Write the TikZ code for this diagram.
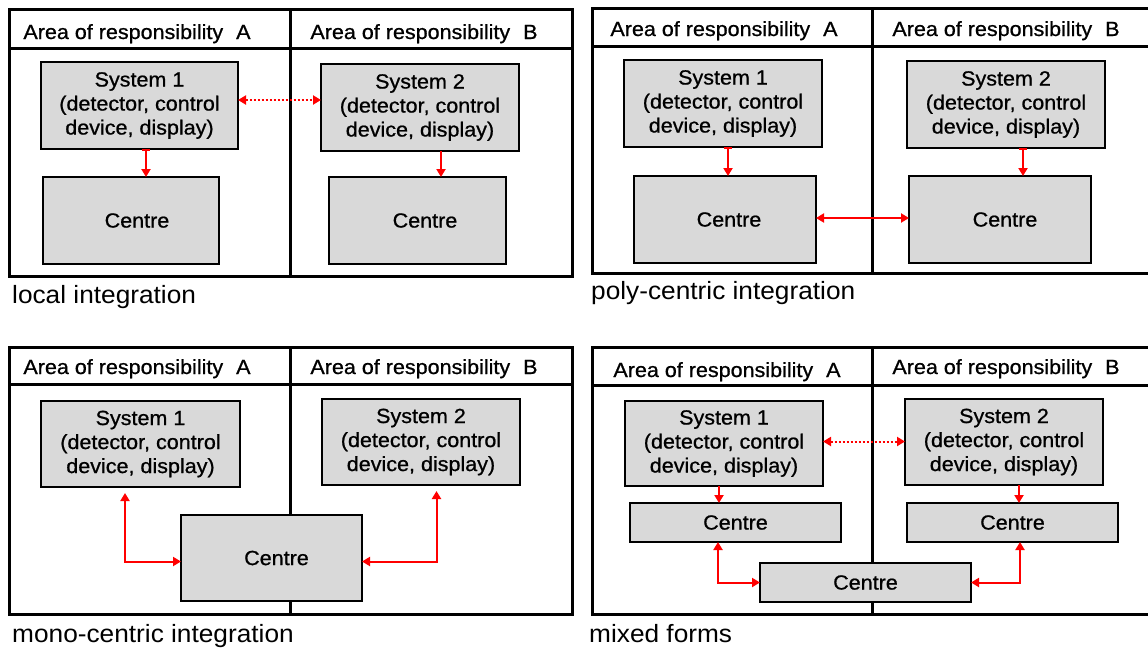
\documentclass[tikz,border=0pt]{standalone}
\usepackage{fontspec}
\setmainfont[FakeStretch=1.05]{Liberation Sans}
\newfontfamily\boxfamily[FakeStretch=1.05,FakeBold=0.8]{Liberation Sans}
\usetikzlibrary{arrows.meta,calc}
\definecolor{boxgray}{RGB}{217,217,217}
\newcommand\boxnode[6]{%
  \node[gbox, minimum width={(#4)-(#2)}, minimum height={(#5)-(#3)}]
    (#1) at ({((#2)+(#4))/2},{((#3)+(#5))/2}) {#6};}
\newcommand\sysname[1]{System #1\\(detector, control\\device, display)}
\newcommand\aor[1]{Area of responsibility\hspace{13pt}#1}
\newcommand\ctr[1]{\hspace{#1}Centre}
\begin{document}
\begin{tikzpicture}[x=1pt,y=-1pt,
  panel/.style={line width=3pt},
  gbox/.style={draw=black, fill=boxgray, line width=2pt, inner sep=0pt,
    outer sep=0pt, align=center, font=\boxfamily\fontsize{20.5}{24}\selectfont},
  hdr/.style={anchor=base, inner sep=0pt, font=\boxfamily\fontsize{20.5}{24}\selectfont},
  caption/.style={anchor=base west, inner sep=0pt, font=\fontsize{25}{30}\selectfont},
  link/.style={red, line width=2pt, -{Triangle[length=8pt,width=9pt]}},
  barlink/.style={red, line width=2pt, {Bar[width=8pt]}-{Triangle[length=8pt,width=9pt]}},
  twoway/.style={red, line width=2pt, {Triangle[length=8pt,width=9pt]}-{Triangle[length=8pt,width=9pt]}},
  dotlink/.style={twoway, dash pattern=on 2pt off 2pt}]
\clip (0,0) rectangle (1148,648);
\fill[white] (0,0) rectangle (1148,648);

% ---------- local integration ----------
\draw[panel] (9,9) rectangle (572,276);
\draw[panel] (9,48) -- (572,48);
\draw[panel] (290,9) -- (290,276);
\node[hdr] (la) at (137,39) {\aor{A}};
\node[hdr] (lb) at (424,39) {\aor{B}};
\boxnode{ls1}{41}{62}{238}{149}{\sysname{1}}
\boxnode{ls2}{321}{64}{519}{151}{\sysname{2}}
\boxnode{lc1}{43}{177}{219}{264}{\ctr{12pt}}
\boxnode{lc2}{329}{177}{506}{264}{\ctr{15pt}}
\draw[barlink] ([xshift=6.5pt]ls1.south) -- ([xshift=6.5pt]ls1.south |- lc1.north);
\draw[link] ([xshift=21pt]ls2.south) -- ([xshift=21pt]ls2.south |- lc2.north);
\draw[dotlink] ([yshift=5.5pt]ls1.east) -- ([yshift=5.5pt]ls1.east -| ls2.west);
\node[caption] (lcap) at (12,303) {local integration};

% ---------- poly-centric integration ----------
\draw[panel] (592,8) rectangle (1160,273);
\draw[panel] (592,46) -- (1160,46);
\draw[panel] (872,8) -- (872,273);
\node[hdr] (pa) at (724,36) {\aor{A}};
\node[hdr] (pb) at (1006,36) {\aor{B}};
\boxnode{ps1}{624}{60}{822}{147}{\sysname{1}}
\boxnode{ps2}{907}{61}{1105}{148}{\sysname{2}}
\boxnode{pc1}{634}{176}{816}{263}{\ctr{8pt}}
\boxnode{pc2}{909}{176}{1091}{263}{\ctr{10pt}}
\draw[barlink] ([xshift=5pt]ps1.south) -- ([xshift=5pt]ps1.south |- pc1.north);
\draw[barlink] ([xshift=17pt]ps2.south) -- ([xshift=17pt]ps2.south |- pc2.north);
\draw[twoway] ([yshift=1.5pt]pc1.east) -- ([yshift=1.5pt]pc1.east -| pc2.west);
\node[caption] (pcap) at (591,299) {poly-centric integration};

% ---------- mono-centric integration ----------
\draw[panel] (9,347) rectangle (572,614);
\draw[panel] (9,384) -- (572,384);
\draw[panel] (290,347) -- (290,614);
\node[hdr] (ma) at (137,374) {\aor{A}};
\node[hdr] (mb) at (424,374) {\aor{B}};
\boxnode{ms1}{41}{401}{240}{487}{\sysname{1}}
\boxnode{ms2}{322}{399}{520}{485}{\sysname{2}}
\boxnode{mc}{181}{515}{362}{601}{\ctr{10pt}}
\draw[twoway] ([shift={(-15.5,6)}]ms1.south) |- ([yshift=-3.5pt]mc.west);
\draw[twoway] ([yshift=-3.5pt]mc.east) -| ([shift={(15.5,6)}]ms2.south);
\node[caption] (mcap) at (12,642) {mono-centric integration};

% ---------- mixed forms ----------
\draw[panel] (592,347) rectangle (1160,614);
\draw[panel] (592,385) -- (1160,385);
\draw[panel] (872,347) -- (872,614);
\node[hdr] (xa) at (727,377) {\aor{A}};
\node[hdr] (xb) at (1006,374) {\aor{B}};
\boxnode{xs1}{625}{401}{823}{486}{\sysname{1}}
\boxnode{xs2}{905}{399}{1103}{485}{\sysname{2}}
\boxnode{xc1}{630}{503}{841}{542}{Centre}
\boxnode{xc2}{907}{503}{1118}{542}{Centre}
\boxnode{xcm}{760}{563}{971}{602}{Centre}
\draw[link] ([xshift=-5pt]xs1.south) -- ([xshift=-5pt]xs1.south |- xc1.north);
\draw[link] ([xshift=15pt]xs2.south) -- ([xshift=15pt]xs2.south |- xc2.north);
\draw[dotlink] ([yshift=2pt]xs1.east) -- ([yshift=2pt]xs1.east -| xs2.west);
\draw[twoway] ([xshift=-17.5pt]xc1.south) |- (xcm.west);
\draw[twoway] (xcm.east) -| ([xshift=7.5pt]xc2.south);
\node[caption] (xcap) at (589,642) {mixed forms};
\end{tikzpicture}
\end{document}
